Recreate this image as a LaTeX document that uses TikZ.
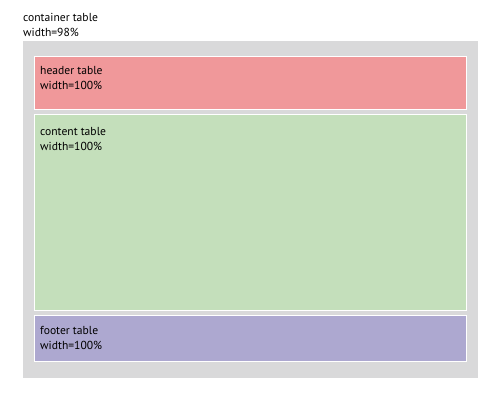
\documentclass[tikz,border=0pt]{standalone}
\usepackage{fontspec}
\setmainfont{PT Sans}
\definecolor{contgray}{RGB}{217,217,218}
\definecolor{headpink}{RGB}{240,152,154}
\definecolor{contgreen}{RGB}{196,223,187}
\definecolor{footpurple}{RGB}{173,168,208}
\tikzset{
  panel/.style={draw=white, line width=0.9pt},
  lbl/.style={anchor=base west, inner sep=0pt, align=left, font=\fontsize{11.6}{14.8}\selectfont, text=black}
}
\begin{document}
\begin{tikzpicture}[x=1pt,y=-1pt]
\useasboundingbox (0,0) rectangle (500,400);
\fill[white] (0,0) rectangle (500,400);
\fill[contgray] (23,41) rectangle (478,378);
\path[panel, fill=headpink] (34,56) rectangle (466,109);
\path[panel, fill=contgreen] (34,114) rectangle (466,310);
\path[panel, fill=footpurple] (34,315) rectangle (466,361);
\node[lbl] (ct) at (23,36) {container table\\width=98\%};
\node[lbl] (ht) at (40,89) {header table\\width=100\%};
\node[lbl] (cnt) at (40,150) {content table\\width=100\%};
\node[lbl] (ft) at (40,349) {footer table\\width=100\%};
\end{tikzpicture}
\end{document}
